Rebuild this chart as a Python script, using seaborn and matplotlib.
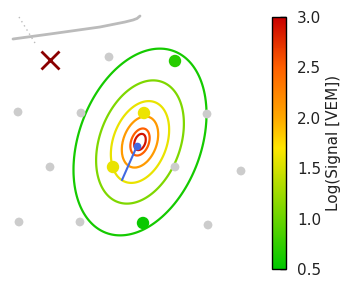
import numpy as np
import pandas as pd
import matplotlib
matplotlib.use("Agg")
import matplotlib.pyplot as plt
import seaborn as sns
from matplotlib.colors import LinearSegmentedColormap, Normalize
from matplotlib.cm import ScalarMappable

# ---------------- data (km, y up) ----------------
PX = 42.0  # pixels per km in the reference
grey_x = [109, 18, 81, 207, 50, 175, 241, 19, 80, 208]
grey_y = [57, 112, 113, 114, 167, 167, 171, 222, 222, 225]
hit_x = [175, 144, 113, 143]
hit_y = [61, 113, 167, 223]
hit_logS = [0.68, 1.62, 1.6, 0.55]
core_xy = (137, 146)
axis_end_xy = (122, 180)
cross_xy = (50, 60)
track_x = [13, 50, 100, 125, 133, 137, 140]
track_y = [39, 34, 27, 22, 20, 18.5, 16]
dotted_x = [19, 35]
dotted_y = [17, 43]
# contour levels and their semi-major axes (px)
ldf_levels = [4.0, 2.9, 2.5, 2.1, 1.6, 1.1, 0.6, -1.0]
ldf_radius = [0.5, 8.5, 14.0, 26.6, 42.5, 64.0, 97.0, 300.0]
contour_levels = [0.6, 1.1, 1.6, 2.1, 2.5, 2.9]
ellipse_center = (140, 142)
ellipse_tilt_deg = 20.4
ellipse_ratio = 0.63
cbar_ticks = [0.5, 1.0, 1.5, 2.0, 2.5, 3.0]

W, H = 360, 300
def kx(p): return np.asarray(p, float) / PX
def ky(p): return (H - np.asarray(p, float)) / PX

# ---------------- style ----------------
sns.set_style("white")
plt.rcParams['font.family'] = ['DejaVu Sans']

cmap = LinearSegmentedColormap.from_list(
    "auger", [(0.0, "#00c800"), (0.48, "#ffe600"), (0.6, "#ffa800"),
              (0.8, "#ff6000"), (1.0, "#c80000")])
norm = Normalize(0.5, 3.0)

fig = plt.figure(figsize=(3.6, 3.0), dpi=100)
ax_w = 266
ax = fig.add_axes([0, 0, ax_w / W, 1])
ax.set_xlim(0, ax_w / PX)
ax.set_ylim(0, H / PX)
ax.set_aspect('equal')
ax.axis('off')

# LDF field
gx = np.linspace(0, ax_w / PX, 500)
gy = np.linspace(0, H / PX, 560)
X, Y = np.meshgrid(gx, gy)
cx, cy = kx(ellipse_center[0]), ky(ellipse_center[1])
th = np.deg2rad(ellipse_tilt_deg)
dx, dy = X - cx, Y - cy
v = dx * np.sin(th) + dy * np.cos(th)
u = dx * np.cos(th) - dy * np.sin(th)
r_px = np.sqrt(v ** 2 + (u / ellipse_ratio) ** 2) * PX
Z = np.interp(np.log(r_px + 1e-9), np.log(ldf_radius), ldf_levels)
ax.contour(X, Y, Z, levels=contour_levels, cmap=cmap, norm=norm, linewidths=1.6)

# track lines
ax.plot(kx(track_x), ky(track_y), color="#bbbbbb", lw=2.0, solid_capstyle='round')
ax.plot(kx(dotted_x), ky(dotted_y), color="#bbbbbb", lw=1.0, ls=(0, (1, 2.5)))

# stations
grey_df = pd.DataFrame({"x": kx(grey_x), "y": ky(grey_y)})
sns.scatterplot(data=grey_df, x="x", y="y", color="#cccccc", s=40,
                edgecolor="none", ax=ax, zorder=3)
hit_df = pd.DataFrame({"x": kx(hit_x), "y": ky(hit_y), "s": hit_logS})
sns.scatterplot(data=hit_df, x="x", y="y", hue="s", palette=cmap, hue_norm=norm,
                s=80, edgecolor="none", legend=False, ax=ax, zorder=4)

# shower core and axis projection
ax.plot([kx(core_xy[0]), kx(axis_end_xy[0])], [ky(core_xy[1]), ky(axis_end_xy[1])],
        color="#4169e1", lw=1.5, zorder=5)
ax.plot(kx(core_xy[0]), ky(core_xy[1]), 'o', color="#4169e1", ms=5.5,
        mec="none", zorder=6)
ax.plot(kx(cross_xy[0]), ky(cross_xy[1]), 'x', color="#8b0000", ms=13, mew=2, zorder=6)
ax.set_xlim(0, ax_w / PX)
ax.set_ylim(0, H / PX)
ax.axis('off')

# colorbar
cax = fig.add_axes([272 / W, (H - 269) / H, 14 / W, 252 / H])
sm = ScalarMappable(norm=norm, cmap=cmap)
cb = fig.colorbar(sm, cax=cax, ticks=cbar_ticks)
cb.outline.set_linewidth(1.0)
cb.outline.set_edgecolor("black")
cax.tick_params(direction='in', length=4, width=1, right=True, left=False,
                pad=8, labelsize=11, colors="#222222")
cax.tick_params(axis='y', colors='black', labelcolor="#222222")
cb.set_ticklabels([f"{t:.1f}" for t in cbar_ticks])
cb.set_label("Log(Signal [VEM])", fontsize=11, color="#222222", labelpad=3)

fig.savefig("out.png", dpi=100)
